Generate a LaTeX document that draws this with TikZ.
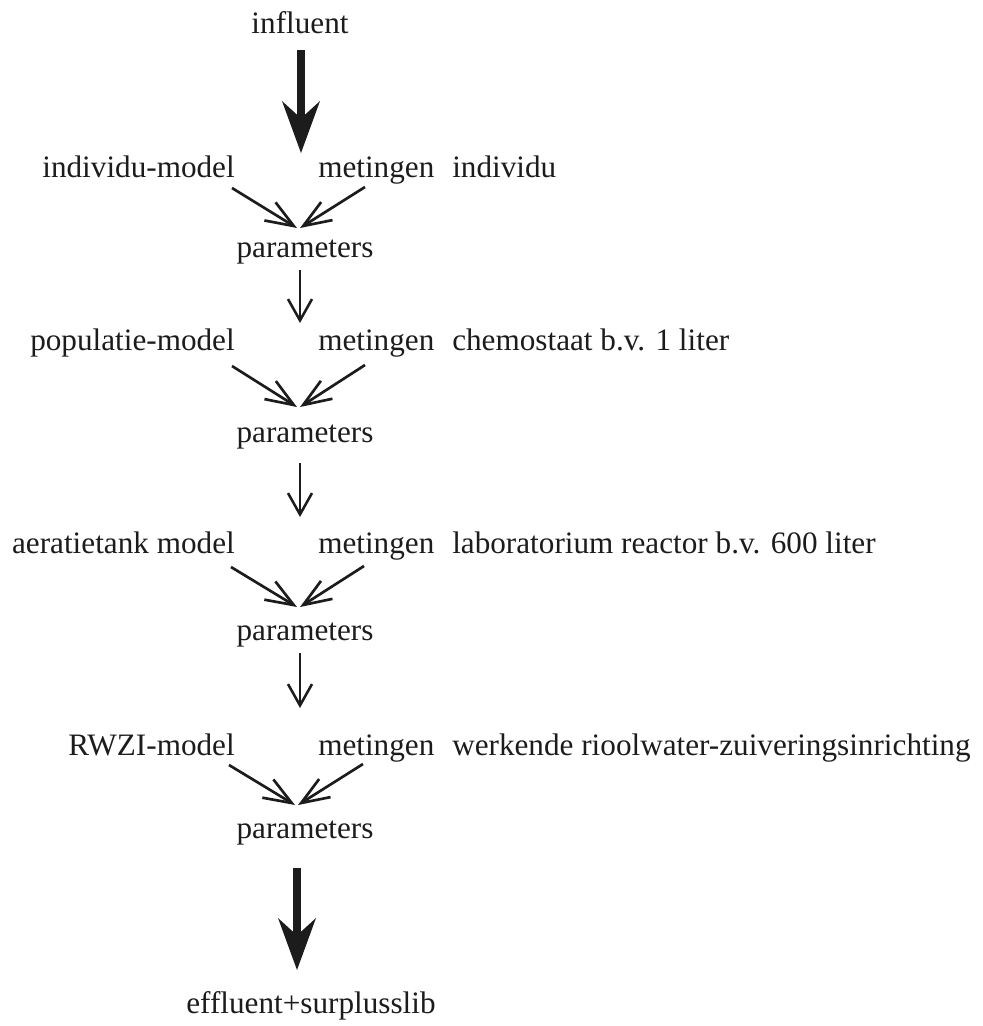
\documentclass[tikz,border=0pt]{standalone}
\usepackage{fontspec}
\setmainfont{Liberation Serif}
\usetikzlibrary{arrows.meta}
\definecolor{ink}{HTML}{1C1C1C}
\begin{document}
\begin{tikzpicture}[x=0.75pt,y=-0.75pt,
  lbl/.style={inner sep=0pt, font=\fontsize{23.4}{28}\selectfont, text=ink},
  bigarrow/.style={draw=ink, line width=6pt, -{Stealth[length=39pt,width=28.5pt,inset=13pt,line width=0pt,fill=ink]}},
  conv/.style={draw=ink, line width=2pt, -{Straight Barb[length=21pt,width=16pt]}},
  downarrow/.style={draw=ink, line width=1.9pt, -{Straight Barb[length=16pt,width=18pt]}}]
\useasboundingbox (0,0) rectangle (983,1026);

% top
\node[lbl, anchor=base] (infl) at (300,33) {influent};
\coordinate (t1) at (301,50);
\coordinate (t2) at (301,153);
\draw[bigarrow] (t1) -- (t2);

% row 1
\node[lbl, anchor=base east] (L1) at (235,177) {individu-model};
\node[lbl, anchor=base west] (M1) at (318,177) {metingen};
\node[lbl, anchor=base west] (R1) at (452,177) {individu};
\node[lbl, anchor=base] (P1) at (305,257) {parameters};
\coordinate (l1s) at (232,188);
\coordinate (r1s) at (365,187);
\coordinate (l1e) at (297,228);
\coordinate (r1e) at (300,228);
\draw[conv] (l1s) -- (l1e);
\draw[conv] (r1s) -- (r1e);
\coordinate (d1s) at (300,270);
\coordinate (d1e) at (300,323);
\draw[downarrow] (d1s) -- (d1e);

% row 2
\node[lbl, anchor=base east] (L2) at (235,350) {populatie-model};
\node[lbl, anchor=base west] (M2) at (318,350) {metingen};
\node[lbl, anchor=base west] (R2) at (452,350) {chemostaat b.v. 1 liter};
\node[lbl, anchor=base] (P2) at (305,442) {parameters};
\coordinate (l2s) at (232,366);
\coordinate (r2s) at (365,365);
\coordinate (l2e) at (297,407);
\coordinate (r2e) at (300,407);
\draw[conv] (l2s) -- (l2e);
\draw[conv] (r2s) -- (r2e);
\coordinate (d2s) at (300,463);
\coordinate (d2e) at (300,517);
\draw[downarrow] (d2s) -- (d2e);

% row 3
\node[lbl, anchor=base east] (L3) at (235,553) {aeratietank model};
\node[lbl, anchor=base west] (M3) at (318,553) {metingen};
\node[lbl, anchor=base west] (R3) at (452,553) {laboratorium reactor b.v. 600 liter};
\node[lbl, anchor=base] (P3) at (305,640) {parameters};
\coordinate (l3s) at (231,567);
\coordinate (r3s) at (364,566);
\coordinate (l3e) at (297,607);
\coordinate (r3e) at (300,607);
\draw[conv] (l3s) -- (l3e);
\draw[conv] (r3s) -- (r3e);
\coordinate (d3s) at (300,653);
\coordinate (d3e) at (300,708);
\draw[downarrow] (d3s) -- (d3e);

% row 4
\node[lbl, anchor=base east] (L4) at (235,755) {RWZI-model};
\node[lbl, anchor=base west] (M4) at (318,755) {metingen};
\node[lbl, anchor=base west] (R4) at (452,755) {werkende rioolwater-zuiveringsinrichting};
\node[lbl, anchor=base] (P4) at (305,838) {parameters};
\coordinate (l4s) at (229,765);
\coordinate (r4s) at (363,764);
\coordinate (l4e) at (295,805);
\coordinate (r4e) at (298,805);
\draw[conv] (l4s) -- (l4e);
\draw[conv] (r4s) -- (r4e);

% bottom
\coordinate (b1) at (297,868);
\coordinate (b2) at (297,970);
\draw[bigarrow] (b1) -- (b2);
\node[lbl, anchor=base] (effl) at (311,1013) {effluent+surplusslib};
\end{tikzpicture}
\end{document}
